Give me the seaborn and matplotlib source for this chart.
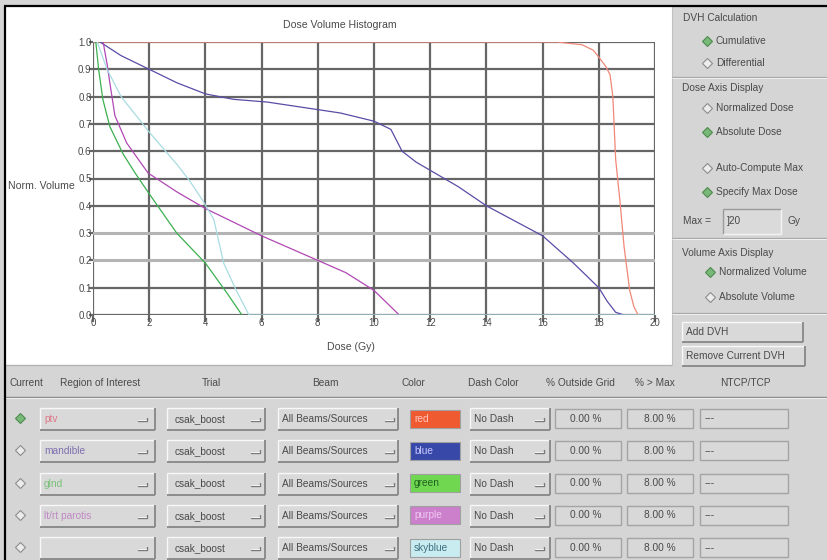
import numpy as np
import pandas as pd
import matplotlib
matplotlib.use("Agg")
import matplotlib.pyplot as plt
import seaborn as sns
from matplotlib.patches import Rectangle

# ---------------- data ----------------
curve_keys = ["ptv", "mandible", "glnd", "parotis", "skyblue"]
line_colors = ["#f08878", "#5a4ca6", "#3cb050", "#b048b4", "#a8dce2"]

ptv_dose = [0, 16.5, 17.4, 17.8, 18.0, 18.25, 18.4, 18.5, 18.6, 18.75, 18.9, 19.1, 19.25, 19.4]
ptv_vol = [1.0, 1.0, 0.99, 0.97, 0.945, 0.91, 0.88, 0.80, 0.57, 0.42, 0.25, 0.09, 0.03, 0.0]

mandible_dose = [0.25, 1.0, 2.0, 3.0, 4.0, 5.0, 6.2, 7.5, 8.8, 10.0, 10.6, 11.0, 11.5, 12.0,
                 13.0, 14.0, 15.0, 16.0, 17.1, 18.0, 18.3, 18.6, 18.9]
mandible_vol = [1.0, 0.95, 0.90, 0.85, 0.81, 0.79, 0.78, 0.76, 0.74, 0.71, 0.68, 0.60, 0.56, 0.53,
                0.47, 0.40, 0.345, 0.29, 0.19, 0.10, 0.05, 0.01, 0.0]

glnd_dose = [0.1, 0.2, 0.35, 0.6, 1.07, 1.5, 1.96, 2.98, 4.0, 4.77, 5.3]
glnd_vol = [1.0, 0.9, 0.79, 0.69, 0.59, 0.52, 0.45, 0.30, 0.19, 0.08, 0.0]

parotis_dose = [0.36, 0.5, 0.6, 0.78, 1.2, 1.96, 3.0, 4.0, 5.0, 6.0, 7.0, 8.0, 9.0, 10.0, 10.5, 10.9]
parotis_vol = [1.0, 0.92, 0.85, 0.73, 0.63, 0.52, 0.45, 0.39, 0.34, 0.29, 0.245, 0.20, 0.155, 0.09, 0.04, 0.0]

skyblue_dose = [0.15, 0.5, 1.0, 2.0, 3.0, 3.45, 3.9, 4.3, 4.65, 5.1, 5.55, 20.0]
skyblue_vol = [1.0, 0.9, 0.8, 0.67, 0.55, 0.49, 0.42, 0.35, 0.19, 0.09, 0.0, 0.0]

x_ticks = [0, 2, 4, 6, 8, 10, 12, 14, 16, 18, 20]
y_ticks = [0.0, 0.1, 0.2, 0.3, 0.4, 0.5, 0.6, 0.7, 0.8, 0.9, 1.0]
y_tick_labels = ["0.0", "0.1", "0.2", "0.3", "0.4", "0.5", "0.6", "0.7", "0.8", "0.9", "1.0"]

roi_names = ["ptv", "mandible", "glnd", "lt/rt parotis", ""]
roi_text_colors = ["#e07888", "#8070b0", "#78c078", "#c088c4", "#c8e2ee"]
color_names = ["red", "blue", "green", "purple", "skyblue"]
swatch_colors = ["#f05a30", "#3848a8", "#70d850", "#cc80cc", "#c8ecf0"]
swatch_text_colors = ["#ffc8c0", "#c8c8ff", "#206020", "#f0c8f0", "#407080"]
trial_names = ["csak_boost"] * 5
beam_names = ["All Beams/Sources"] * 5
dash_names = ["No Dash"] * 5
outside_grid = ["0.00 %"] * 5
over_max = ["8.00 %"] * 5
ntcp = ["---"] * 5

header_labels = ["Current", "Region of Interest", "Trial", "Beam", "Color",
                 "Dash Color", "% Outside Grid", "% > Max", "NTCP/TCP"]

frames = []
for key, d, v in zip(curve_keys,
                     [ptv_dose, mandible_dose, glnd_dose, parotis_dose, skyblue_dose],
                     [ptv_vol, mandible_vol, glnd_vol, parotis_vol, skyblue_vol]):
    frames.append(pd.DataFrame({"dose": d, "volume": v, "curve": key}))
df = pd.concat(frames, ignore_index=True)

# ---------------- figure ----------------
sns.set_theme(style="white")
plt.rcParams["font.family"] = ["Liberation Sans", "DejaVu Sans"]

W, H = 828, 560
fig = plt.figure(figsize=(W / 100, H / 100), dpi=100)
fig.patch.set_facecolor("#d5d5d5")

ui = fig.add_axes([0, 0, 1, 1], zorder=0)
ui.set_xlim(0, W)
ui.set_ylim(H, 0)
ui.axis("off")

TXT = "#4a4a4a"
BG = "#d5d5d5"
FS = 7.3


def rect(x0, y0, x1, y1, fc, ec="none", lw=0.8, z=1):
    ui.add_patch(Rectangle((x0, y0), x1 - x0, y1 - y0, fc=fc, ec=ec, lw=lw, zorder=z))


def hline(x0, x1, y, c, lw=0.8, z=2):
    ui.plot([x0, x1], [y, y], color=c, lw=lw, zorder=z, solid_capstyle="butt")


def vline(x, y0, y1, c, lw=0.8, z=2):
    ui.plot([x, x], [y0, y1], color=c, lw=lw, zorder=z, solid_capstyle="butt")


def bevel(x0, y0, x1, y1, raised=True, fc="#d9d9d9"):
    rect(x0, y0, x1, y1, fc)
    lt, dk = ("#f8f8f8", "#8c8c8c") if raised else ("#9a9a9a", "#f4f4f4")
    hline(x0, x1, y0, lt, 1.0)
    vline(x0, y0, y1, lt, 1.0)
    hline(x0, x1, y1, dk, 1.4 if raised else 1.0)
    vline(x1, y0, y1, dk, 1.4 if raised else 1.0)


def dropdown_icon(x, yc):
    ui.plot([x, x + 9, x + 9], [yc + 2, yc + 2, yc - 1], color="#7a7a7a", lw=1.0, zorder=3)
    ui.plot([x, x + 8], [yc + 1, yc + 1], color="#f4f4f4", lw=0.7, zorder=3)


def diamond(x, y, selected):
    if selected:
        ui.plot(x, y, marker="D", ms=4.6, mfc="#78b878", mec="#4f8a4f", mew=0.8, zorder=4)
    else:
        ui.plot(x, y, marker="D", ms=4.6, mfc="#ececec", mec="#8c8c8c", mew=0.8, zorder=4)


# panels
rect(5, 6, 672, 365, "white", z=0.5)
rect(672, 6, W, 365, BG, z=0.5)
rect(5, 365, W, H, BG, z=0.5)
hline(5, 672, 365, "#b4b4b4", 1.0)
vline(672, 6, 365, "#c0c0c0", 0.8)
hline(4, W, 6, "black", 1.6, z=6)
vline(5, 6, H, "black", 1.6, z=6)

# chart texts
ui.text(340, 25, "Dose Volume Histogram", fontsize=7.6, color=TXT, ha="center", va="center", zorder=3)
ui.text(351, 347, "Dose (Gy)", fontsize=7.6, color=TXT, ha="center", va="center", zorder=3)
ui.text(8, 186, "Norm. Volume", fontsize=7.6, color=TXT, ha="left", va="center", zorder=3)

# right panel
ui.text(683, 18, "DVH Calculation", fontsize=FS, color=TXT, va="center")
diamond(707, 41, True)
ui.text(716, 41, "Cumulative", fontsize=FS, color=TXT, va="center")
diamond(707, 63, False)
ui.text(716, 63, "Differential", fontsize=FS, color=TXT, va="center")
hline(672, W, 77, "#a8a8a8", 0.9)
hline(672, W, 78.2, "#f2f2f2", 0.7)
ui.text(682, 88, "Dose Axis Display", fontsize=FS, color=TXT, va="center")
diamond(707, 108, False)
ui.text(716, 108, "Normalized Dose", fontsize=FS, color=TXT, va="center")
diamond(707, 132, True)
ui.text(716, 132, "Absolute Dose", fontsize=FS, color=TXT, va="center")
diamond(707, 168, False)
ui.text(716, 168, "Auto-Compute Max", fontsize=FS, color=TXT, va="center")
diamond(707, 192, True)
ui.text(716, 192, "Specify Max Dose", fontsize=FS, color=TXT, va="center")
ui.text(683, 221, "Max =", fontsize=FS, color=TXT, va="center")
bevel(723, 209, 781, 234, raised=False, fc="#dadada")
ui.text(727, 221, "]20", fontsize=FS, color=TXT, va="center")
ui.text(788, 221, "Gy", fontsize=FS, color=TXT, va="center")
hline(672, W, 238, "#a8a8a8", 0.9)
hline(672, W, 239.2, "#f2f2f2", 0.7)
ui.text(682, 253, "Volume Axis Display", fontsize=FS, color=TXT, va="center")
diamond(710, 272, True)
ui.text(719, 272, "Normalized Volume", fontsize=FS, color=TXT, va="center")
diamond(710, 297, False)
ui.text(719, 297, "Absolute Volume", fontsize=FS, color=TXT, va="center")
hline(672, W, 313, "#a8a8a8", 0.9)
hline(672, W, 314.2, "#f2f2f2", 0.7)
bevel(682, 322, 803, 342)
ui.text(686, 332, "Add DVH", fontsize=FS, color=TXT, va="center", zorder=3)
bevel(682, 346, 805, 366)
ui.text(686, 356, "Remove Current DVH", fontsize=FS, color=TXT, va="center", zorder=3)

# table header
hx = [10, 60, 211, 325, 413, 493, 580, 655, 745]
ha_list = ["left", "left", "center", "center", "center", "center", "center", "center", "center"]
for lab, x, ha in zip(header_labels, hx, ha_list):
    ui.text(x, 383, lab, fontsize=FS, color=TXT, ha=ha, va="center")
hline(5, W, 396.5, "#8c8c8c", 1.0)
hline(5, W, 397.8, "#f0f0f0", 0.7)

# table rows
for i in range(5):
    yc = 419 + i * 32.3
    y0, y1 = yc - 11, yc + 11
    diamond(20, yc - 1, i == 0)
    bevel(40, y0, 155, y1)
    ui.text(44, yc, roi_names[i], fontsize=FS, color=roi_text_colors[i], va="center", zorder=3)
    dropdown_icon(138, yc)
    bevel(167, y0, 265, y1)
    ui.text(175, yc, trial_names[i], fontsize=FS, color=TXT, va="center", zorder=3)
    dropdown_icon(251, yc)
    bevel(278, y0, 398, y1)
    ui.text(282, yc, beam_names[i], fontsize=FS, color=TXT, va="center", zorder=3)
    dropdown_icon(385, yc)
    rect(410, yc - 9.5, 460, yc + 8.5, swatch_colors[i], ec="#a0a0a0", lw=0.8, z=2)
    ui.text(414, yc - 0.5, color_names[i], fontsize=FS, color=swatch_text_colors[i], va="center", zorder=3)
    bevel(470, y0, 550, y1)
    ui.text(474, yc, dash_names[i], fontsize=FS, color=TXT, va="center", zorder=3)
    dropdown_icon(535, yc)
    rect(555, y0 + 1, 621, y1 - 2, "#d8d8d8", ec="#a4a4a4", lw=1.0, z=2)
    ui.text(586, yc - 0.5, outside_grid[i], fontsize=FS, color=TXT, ha="center", va="center", zorder=3)
    rect(627, y0 + 1, 693, y1 - 2, "#d8d8d8", ec="#a4a4a4", lw=1.0, z=2)
    ui.text(660, yc - 0.5, over_max[i], fontsize=FS, color=TXT, ha="center", va="center", zorder=3)
    rect(700, y0 + 1, 788, y1 - 2, "#d8d8d8", ec="#a4a4a4", lw=1.0, z=2)
    ui.text(705, yc - 0.5, ntcp[i], fontsize=FS, color=TXT, ha="left", va="center", zorder=3)

# ---------------- DVH chart ----------------
ax = fig.add_axes([93 / W, 1 - 315 / H, 562 / W, 273 / H], zorder=2)
ax.set_facecolor("none")
sns.lineplot(data=df, x="dose", y="volume", hue="curve", hue_order=curve_keys,
             palette=line_colors, sort=False, estimator=None, legend=False,
             linewidth=0.9, ax=ax)
ax.set_xlim(0, 20)
ax.set_ylim(0, 1)
ax.set_xticks(x_ticks)
ax.set_xticklabels([str(t) for t in x_ticks])
ax.set_yticks(y_ticks)
ax.set_yticklabels(y_tick_labels)
ax.set_xlabel("")
ax.set_ylabel("")
for s in ax.spines.values():
    s.set_visible(False)
ax.set_axisbelow(True)
ax.grid(True, color="#666666", linewidth=1.6)
for val, gl in zip(y_ticks, ax.get_ygridlines()):
    if abs(val - 0.2) < 1e-6 or abs(val - 0.3) < 1e-6:
        gl.set_color("#b4b4b4")
        gl.set_linewidth(2.2)
ax.tick_params(axis="y", left=True, length=3, width=1.6, color="#666666",
               labelsize=7, labelcolor=TXT, pad=-2)
ax.tick_params(axis="x", bottom=True, length=5, width=1.6, color="#666666",
               labelsize=7, labelcolor=TXT, pad=-3)

fig.savefig("out.png", dpi=100)
